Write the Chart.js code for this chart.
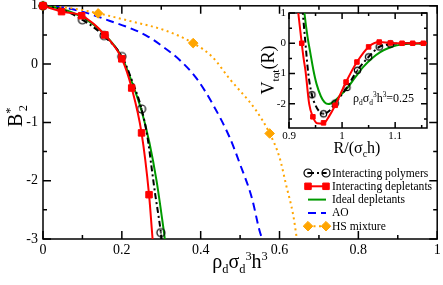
<!DOCTYPE html>
<html><head><meta charset="utf-8">
<script src="https://cdn.jsdelivr.net/npm/chart.js@4"></script>
<style>
html,body{margin:0;padding:0;background:#fff;}
#wrap{position:relative;width:443px;height:285px;overflow:hidden;font-family:"Liberation Serif",serif;color:#000;}
#main{position:absolute;left:0;top:0;}
#inset{position:absolute;left:240px;top:0;}
.t{position:absolute;white-space:nowrap;line-height:1;}
sub,sup{font-size:0.62em;line-height:0;}
</style></head><body>
<div id="wrap">
<canvas id="main" width="443" height="285"></canvas>
<canvas id="inset" width="203" height="165"></canvas>
<div class="t" id="xt" style="left:240px;top:251px;font-size:20px;transform:translateX(-50%);">ρ<sub>d</sub>σ<sub>d</sub><sup>3</sup>h<sup>3</sup></div>
<div class="t" id="yt" style="left:15px;top:116px;font-size:20px;transform:translate(-50%,-50%) rotate(-90deg);">B<sup>*</sup><sub style="margin-left:-0.3em">2</sub></div>
<div class="t" id="ixt" style="left:357px;top:140px;font-size:16px;transform:translateX(-50%);">R/(σ<sub>c</sub>h)</div>
<div class="t" id="iyt" style="left:268px;top:70px;font-size:18px;transform:translate(-50%,-50%) rotate(-90deg);">V<sub>tot</sub>(R)</div>
<div class="t" id="ann" style="left:353px;top:92px;font-size:12px;">ρ<sub>d</sub>σ<sub>d</sub><sup>3</sup>h<sup>3</sup>=0.25</div>
</div>
<script>
// ---------------- main plot data ----------------
const mainXTicks = [0, 0.2, 0.4, 0.6, 0.8, 1];
const mainXLabels = ['0', '0.2', '0.4', '0.6', '0.8', '1'];
const mainXMinor = [0.1, 0.3, 0.5, 0.7, 0.9];
const mainYTicks = [-3, -2, -1, 0, 1];
const mainYLabels = ['-3', '-2', '-1', '0', '1'];
const mainYMinor = [-2.5, -1.5, -0.5, 0.5];

const polyLineX = [0, 0.05, 0.1, 0.15, 0.2, 0.225, 0.25, 0.265, 0.276, 0.285, 0.293, 0.299, 0.303];
const polyLineY = [1, 0.93, 0.76, 0.51, 0.13, -0.27, -0.77, -1.25, -1.8, -2.25, -2.6, -2.89, -3.15];
const polyMarkX = [0, 0.1, 0.155, 0.2, 0.25, 0.299];
const polyMarkY = [1, 0.76, 0.49, 0.13, -0.77, -2.89];

const depLineX = [0, 0.047, 0.098, 0.157, 0.2, 0.225, 0.25, 0.269, 0.278, 0.282];
const depLineY = [1, 0.9, 0.83, 0.5, 0.09, -0.41, -1.18, -2.24, -3.0, -3.3];
const depMarkX = [0, 0.047, 0.098, 0.157, 0.2, 0.225, 0.25, 0.269];
const depMarkY = [1, 0.9, 0.83, 0.5, 0.09, -0.41, -1.18, -2.24];

const idealX = [0, 0.05, 0.1, 0.15, 0.2, 0.225, 0.25, 0.27, 0.288, 0.3, 0.309, 0.312];
const idealY = [1, 0.94, 0.8, 0.55, 0.12, -0.3, -0.8, -1.35, -2.0, -2.55, -3.0, -3.2];

const aoX = [0, 0.05, 0.1, 0.17, 0.22, 0.262, 0.3, 0.35, 0.39, 0.43, 0.473, 0.5, 0.53, 0.549, 0.556];
const aoY = [1, 0.97, 0.9, 0.74, 0.62, 0.49, 0.32, 0.05, -0.25, -0.68, -1.25, -1.72, -2.3, -2.85, -3.0];

const hsLineX = [0, 0.07, 0.14, 0.22, 0.313, 0.381, 0.43, 0.473, 0.54, 0.575, 0.6, 0.617, 0.635, 0.644];
const hsLineY = [1, 0.96, 0.87, 0.74, 0.57, 0.36, 0.12, -0.25, -0.79, -1.19, -1.6, -2.08, -2.6, -3.0];
const hsMarkX = [0, 0.14, 0.381, 0.575];
const hsMarkY = [1, 0.87, 0.36, -1.19];

const legendNames = ['Interacting polymers', 'Interacting depletants', 'Ideal depletants', 'AO', 'HS mixture'];

// ---------------- inset data ----------------
const inXTicks = [0.9, 1, 1.1];
const inXLabels = ['0.9', '1', '1.1'];
const inXMinor = [0.95, 1.05, 1.15];
const inYTicks = [-2, -1, 0, 1];
const inYLabels = ['-2', '-1', '0', '1'];
const inYMinor = [-2.5, -1.5, -0.5, 0.5];

const inDepLineX = [0.914, 0.9175, 0.924, 0.928, 0.931, 0.938, 0.945, 0.953, 0.965, 0.976, 0.987, 1.0075, 1.028, 1.05, 1.07, 1.091, 1.113, 1.133, 1.153, 1.165];
const inDepLineY = [1.6, 1.0, 0.0, -0.56, -0.9, -2.0, -2.43, -2.64, -2.65, -2.4, -2.05, -1.28, -0.62, -0.12, 0.04, 0.01, 0, 0, 0, 0];
const inDepMarkX = [0.924, 0.945, 0.965, 0.987, 1.0075, 1.028, 1.05, 1.07, 1.091, 1.113, 1.133, 1.153];
const inDepMarkY = [0.0, -2.43, -2.63, -2.05, -1.28, -0.62, -0.12, 0.04, 0.01, 0, 0, 0];

const inPolyLineX = [0.923, 0.926, 0.931, 0.936, 0.943, 0.95, 0.957, 0.965, 0.975, 0.987, 1.009, 1.029, 1.05, 1.07, 1.091, 1.12, 1.165];
const inPolyLineY = [1.6, 1.0, 0.0, -0.95, -1.7, -2.05, -2.25, -2.33, -2.25, -1.98, -1.46, -0.89, -0.45, -0.12, -0.03, 0, 0];
const inPolyMarkX = [0.943, 0.965, 0.987, 1.009, 1.029, 1.05, 1.07, 1.091];
const inPolyMarkY = [-1.7, -2.33, -1.98, -1.46, -0.89, -0.45, -0.12, -0.03];

const inIdealX = [0.926, 0.929, 0.935, 0.94, 0.946, 0.952, 0.96, 0.967, 0.974, 0.985, 0.995, 1.009, 1.025, 1.04, 1.056, 1.072, 1.09, 1.103, 1.125, 1.165];
const inIdealY = [1.5, 1.0, 0.2, -0.3, -0.89, -1.35, -1.75, -1.95, -2.01, -1.92, -1.75, -1.5, -1.12, -0.78, -0.5, -0.29, -0.14, -0.07, -0.02, 0];

// ---------------- helpers ----------------
const pts = (xs, ys) => xs.map((x, i) => ({x: x, y: ys[i]}));
const RED = '#ff0000', GREEN = '#009a00', BLUE = '#0000ff', ORANGE = '#ffa500', BLACK = '#000000';

function circleDot(r) {
  const c = document.createElement('canvas');
  const s = Math.ceil(2 * r + 4);
  c.width = s; c.height = s;
  const g = c.getContext('2d');
  g.strokeStyle = '#000'; g.lineWidth = 1.2;
  g.beginPath(); g.arc(s / 2, s / 2, r, 0, Math.PI * 2); g.stroke();
  g.fillStyle = '#000';
  g.beginPath(); g.arc(s / 2, s / 2, 0.9, 0, Math.PI * 2); g.fill();
  return c;
}
const circMain = circleDot(4);
const circIn = circleDot(3.2);

Chart.defaults.font.family = '"Liberation Serif", serif';
Chart.defaults.color = '#000';

const frameTicks = {
  id: 'frameTicks',
  beforeDatasetsDraw(chart, args, o) {
    const {ctx, chartArea: a} = chart;
    const x = chart.scales.x, y = chart.scales.y;
    ctx.save();
    ctx.strokeStyle = '#000';
    ctx.lineWidth = o.lw;
    ctx.beginPath();
    const xs = [[o.xMajor, o.major], [o.xMinor, o.minor]];
    xs.forEach(([vals, len]) => vals.forEach(v => {
      const p = x.getPixelForValue(v);
      ctx.moveTo(p, a.bottom); ctx.lineTo(p, a.bottom - len);
      ctx.moveTo(p, a.top); ctx.lineTo(p, a.top + len);
    }));
    const ys = [[o.yMajor, o.major], [o.yMinor, o.minor]];
    ys.forEach(([vals, len]) => vals.forEach(v => {
      const p = y.getPixelForValue(v);
      ctx.moveTo(a.left, p); ctx.lineTo(a.left + len, p);
      ctx.moveTo(a.right, p); ctx.lineTo(a.right - len, p);
    }));
    ctx.stroke();
    ctx.strokeRect(a.left, a.top, a.right - a.left, a.bottom - a.top);
    ctx.restore();
  }
};

const legendStyles = [
  {color: BLACK, dash: [6, 3, 2, 3], point: circMain, r: 4},
  {color: RED, dash: [], point: 'rect', r: 4.6},
  {color: GREEN, dash: [], point: null},
  {color: BLUE, dash: [8, 5], point: null},
  {color: ORANGE, dash: [2, 3.5], point: 'rectRot', r: 4.8}
];
const legendPlugin = {
  id: 'boxLegend',
  afterDraw(chart, args, o) {
    const ctx = chart.ctx;
    ctx.save();
    legendNames.forEach((name, i) => {
      const st = legendStyles[i];
      const yy = o.y0 + i * o.dy;
      ctx.strokeStyle = st.color; ctx.lineWidth = 2;
      ctx.setLineDash(st.dash);
      ctx.beginPath(); ctx.moveTo(o.x0, yy); ctx.lineTo(o.x1, yy); ctx.stroke();
      ctx.setLineDash([]);
      if (st.point) {
        ctx.fillStyle = st.color; ctx.strokeStyle = st.color; ctx.lineWidth = 1;
        [o.x0, o.x1].forEach(px => Chart.helpers.drawPoint(ctx, {pointStyle: st.point, radius: st.r, rotation: 0, borderWidth: 1}, px, yy));
      }
      ctx.fillStyle = '#000';
      ctx.font = '11.6px "Liberation Serif", serif';
      ctx.textBaseline = 'middle';
      ctx.textAlign = 'left';
      ctx.fillText(name, o.tx, yy + 0.5);
    });
    ctx.restore();
  }
};

function lineDs(data, color, dash, width) {
  return {data: data, showLine: true, borderColor: color, backgroundColor: color, borderWidth: width,
    borderDash: dash, pointRadius: 0, pointHoverRadius: 0, cubicInterpolationMode: 'monotone', clip: 0, fill: false};
}
function markDs(data, style, color, r) {
  return {data: data, showLine: false, pointStyle: style, pointRadius: r, pointHoverRadius: r,
    backgroundColor: color, borderColor: color, borderWidth: 1, clip: false};
}

function fixedScales(xo, yo) {
  return {
    x: {type: 'linear', position: 'bottom', min: xo.min, max: xo.max,
      afterBuildTicks: s => { s.ticks = xo.ticks.map(v => ({value: v})); },
      afterFit: s => { s.height = xo.h; s.paddingLeft = 0; s.paddingRight = 0; },
      grid: {display: false, drawTicks: false}, border: {display: false},
      ticks: {padding: xo.pad, font: {size: xo.fs}, color: '#000', maxRotation: 0, autoSkip: false,
        callback: (v, i) => xo.labels[i]}},
    y: {type: 'linear', position: 'left', min: yo.min, max: yo.max,
      afterBuildTicks: s => { s.ticks = yo.ticks.map(v => ({value: v})); },
      afterFit: s => { s.width = yo.w; s.paddingTop = 0; s.paddingBottom = 0; },
      grid: {display: false, drawTicks: false}, border: {display: false},
      ticks: {padding: yo.pad, font: {size: yo.fs}, color: '#000', autoSkip: false,
        callback: (v, i) => yo.labels[i]}}
  };
}

new Chart(document.getElementById('main'), {
  type: 'scatter',
  data: {datasets: [
    markDs(pts(depMarkX, depMarkY), 'rect', RED, 4.6),
    lineDs(pts(depLineX, depLineY), RED, [], 2),
    markDs(pts(polyMarkX, polyMarkY), circMain, BLACK, 4),
    lineDs(pts(polyLineX, polyLineY), BLACK, [6, 3, 2, 3], 2),
    lineDs(pts(idealX, idealY), GREEN, [], 2),
    markDs(pts(hsMarkX, hsMarkY), 'rectRot', ORANGE, 4.8),
    lineDs(pts(hsLineX, hsLineY), ORANGE, [2, 3.5], 2),
    lineDs(pts(aoX, aoY), BLUE, [8, 5], 2)
  ]},
  options: {
    responsive: false, animation: false, events: [],
    layout: {padding: {top: 5, right: 5, left: 0, bottom: 0}},
    plugins: {legend: {display: false}, tooltip: {enabled: false},
      frameTicks: {xMajor: mainXTicks, xMinor: mainXMinor, yMajor: mainYTicks, yMinor: mainYMinor, major: 8, minor: 4, lw: 1.5},
      boxLegend: {x0: 308, x1: 326, y0: 173, dy: 13.3, tx: 332}},
    scales: fixedScales(
      {min: 0, max: 1, ticks: mainXTicks, labels: mainXLabels, h: 46, pad: 3, fs: 14},
      {min: -3, max: 1, ticks: mainYTicks, labels: mainYLabels, w: 43, pad: 5, fs: 14})
  },
  plugins: [frameTicks, legendPlugin]
});

new Chart(document.getElementById('inset'), {
  type: 'scatter',
  data: {datasets: [
    markDs(pts(inDepMarkX, inDepMarkY), 'rect', RED, 3.2),
    lineDs(pts(inDepLineX, inDepLineY), RED, [], 2),
    markDs(pts(inPolyMarkX, inPolyMarkY), circIn, BLACK, 3.2),
    lineDs(pts(inPolyLineX, inPolyLineY), BLACK, [6, 3, 2, 3], 2),
    lineDs(pts(inIdealX, inIdealY), GREEN, [], 2)
  ]},
  options: {
    responsive: false, animation: false, events: [],
    layout: {padding: {top: 13, right: 16, left: 0, bottom: 0}},
    plugins: {legend: {display: false}, tooltip: {enabled: false},
      frameTicks: {xMajor: inXTicks, xMinor: inXMinor, yMajor: inYTicks, yMinor: inYMinor, major: 6, minor: 3, lw: 1.5}},
    scales: fixedScales(
      {min: 0.9, max: 1.16, ticks: inXTicks, labels: inXLabels, h: 37, pad: 2, fs: 11},
      {min: -2.8, max: 1, ticks: inYTicks, labels: inYLabels, w: 49, pad: 3, fs: 11})
  },
  plugins: [frameTicks]
});
</script>
</body></html>
